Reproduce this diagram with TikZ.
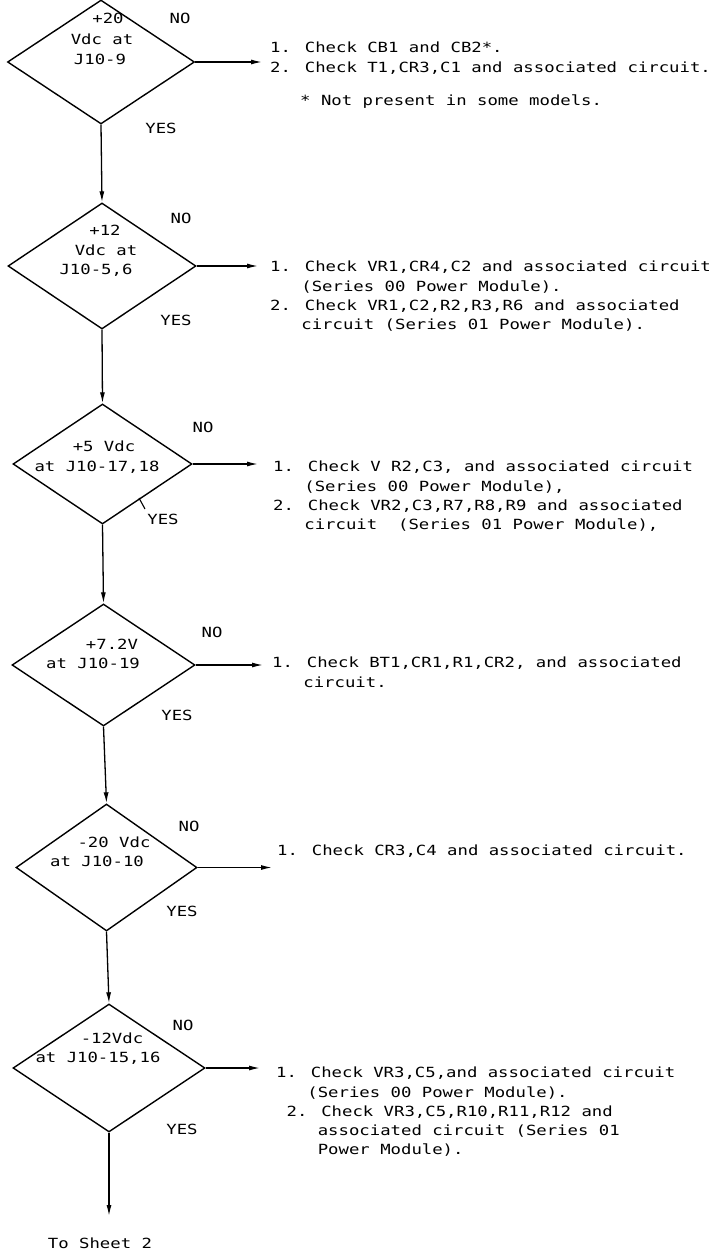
\documentclass[tikz,border=0pt]{standalone}
\usepackage{fontspec}
\usetikzlibrary{shapes.geometric,arrows.meta}
\newfontfamily\tw[FakeStretch=1.235]{DejaVu Sans Mono}
\newcommand{\hang}{\hphantom{0.\ }}
\tikzset{
  dec/.style={diamond, draw, line width=1.4pt, inner sep=0pt},
  lbl/.style={inner sep=0pt, font=\tw\fontsize{14}{19.2}\selectfont},
  blk/.style={lbl, anchor=north west, align=left},
  flow/.style={line width=1.3pt, -{Latex[length=11pt,width=5pt]}},
}
\begin{document}
\begin{tikzpicture}[x=1pt,y=-1pt]
\useasboundingbox (0,0) rectangle (712,1256);
\fill[white] (0,0) rectangle (712,1256);

% ---- Decision 1
\node[dec, minimum width=187pt, minimum height=124pt] (d1) at (101,62) {};
\node[lbl] (d1a) at (108,18) {+20};
\node[lbl] (d1b) at (102,39) {Vdc at};
\node[lbl] (d1c) at (100,59) {J10-9};
\node[lbl] (no1) at (180,18) {NO};
\node[lbl] (yes1) at (161,128) {YES};
\coordinate (e1) at (262,62);
\node[blk] (b1) at (270,42) {1. Check CB1 and CB2*.\\2. Check T1,CR3,C1 and associated circuit.};
\node[lbl, anchor=north west] (b1s) at (300,95) {* Not present in some models.};

% ---- Decision 2
\node[dec, minimum width=188pt, minimum height=126pt] (d2) at (102,266) {};
\node[lbl] (d2a) at (105,230) {+12};
\node[lbl] (d2b) at (106,250) {Vdc at};
\node[lbl] (d2c) at (96,270) {J10-5,6};
\node[lbl] (no2) at (181,218) {NO};
\node[lbl] (yes2) at (176,320) {YES};
\coordinate (e2) at (258,266);
\node[blk] (b2) at (270,261) {1. Check VR1,CR4,C2 and associated circuit\\\hang(Series 00 Power Module).\\2. Check VR1,C2,R2,R3,R6 and associated\\\hang circuit (Series 01 Power Module).};

% ---- Decision 3
\node[dec, minimum width=179pt, minimum height=120pt] (d3) at (102.5,464) {};
\node[lbl] (d3a) at (104,446) {+5 Vdc};
\node[lbl] (d3b) at (97,467) {at J10-17,18};
\node[lbl] (no3) at (203,427) {NO};
\node[lbl] (yes3) at (163,519) {YES};
\coordinate (t3a) at (139,498);
\coordinate (t3b) at (145,509);
\draw[line width=1.1pt] (t3a) -- (t3b);
\coordinate (e3) at (258,464);
\node[blk] (b3) at (273,461) {1. Check V R2,C3, and associated circuit\\\hang(Series 00 Power Module),\\2. Check VR2,C3,R7,R8,R9 and associated\\\hang circuit\ \ (Series 01 Power Module),};

% ---- Decision 4
\node[dec, minimum width=183pt, minimum height=122pt] (d4) at (103.5,665) {};
\node[lbl] (d4a) at (112,644) {+7.2V};
\node[lbl] (d4b) at (93,663) {at J10-19};
\node[lbl] (no4) at (212,632) {NO};
\node[lbl] (yes4) at (177,715) {YES};
\coordinate (e4) at (263,665);
\node[blk] (b4) at (272,657) {1. Check BT1,CR1,R1,CR2, and associated\\\hang circuit.};

% ---- Decision 5
\node[dec, minimum width=181pt, minimum height=127pt] (d5) at (106.5,867.5) {};
\node[lbl] (d5a) at (114,842) {-20 Vdc};
\node[lbl] (d5b) at (97,861) {at J10-10};
\node[lbl] (no5) at (189,826) {NO};
\node[lbl] (yes5) at (182,911) {YES};
\coordinate (e5) at (272,867.5);
\node[blk] (b5) at (277,845) {1. Check CR3,C4 and associated circuit.};

% ---- Decision 6
\node[dec, minimum width=192pt, minimum height=128pt] (d6) at (109,1068) {};
\node[lbl] (d6a) at (112,1038) {-12Vdc};
\node[lbl] (d6b) at (98,1058) {at J10-15,16};
\node[lbl] (no6) at (183,1025) {NO};
\node[lbl] (yes6) at (182,1129) {YES};
\coordinate (e6) at (260,1068);
\node[blk] (b6) at (276,1067) {1. Check VR3,C5,and associated circuit\\\hang(Series 00 Power Module).\\\hphantom{.}2. Check VR3,C5,R10,R11,R12 and\\\hang\hphantom{.}associated circuit (Series 01\\\hang\hphantom{.}Power Module).};

\coordinate (end) at (109,1216);
\node[lbl] (sheet) at (100,1243) {To Sheet 2};

% ---- connectors
\draw[flow] (d1.south) -- (d2.north);
\draw[flow] (d2.south) -- (d3.north);
\draw[flow] (d3.south) -- (d4.north);
\draw[flow] (d4.south) -- (d5.north);
\draw[flow] (d5.south) -- (d6.north);
\draw[flow] (d6.south) -- (end);
\draw[flow] (d1.east) -- (e1);
\draw[flow] (d2.east) -- (e2);
\draw[flow] (d3.east) -- (e3);
\draw[flow] (d4.east) -- (e4);
\draw[flow] (d5.east) -- (e5);
\draw[flow] (d6.east) -- (e6);
\end{tikzpicture}
\end{document}
